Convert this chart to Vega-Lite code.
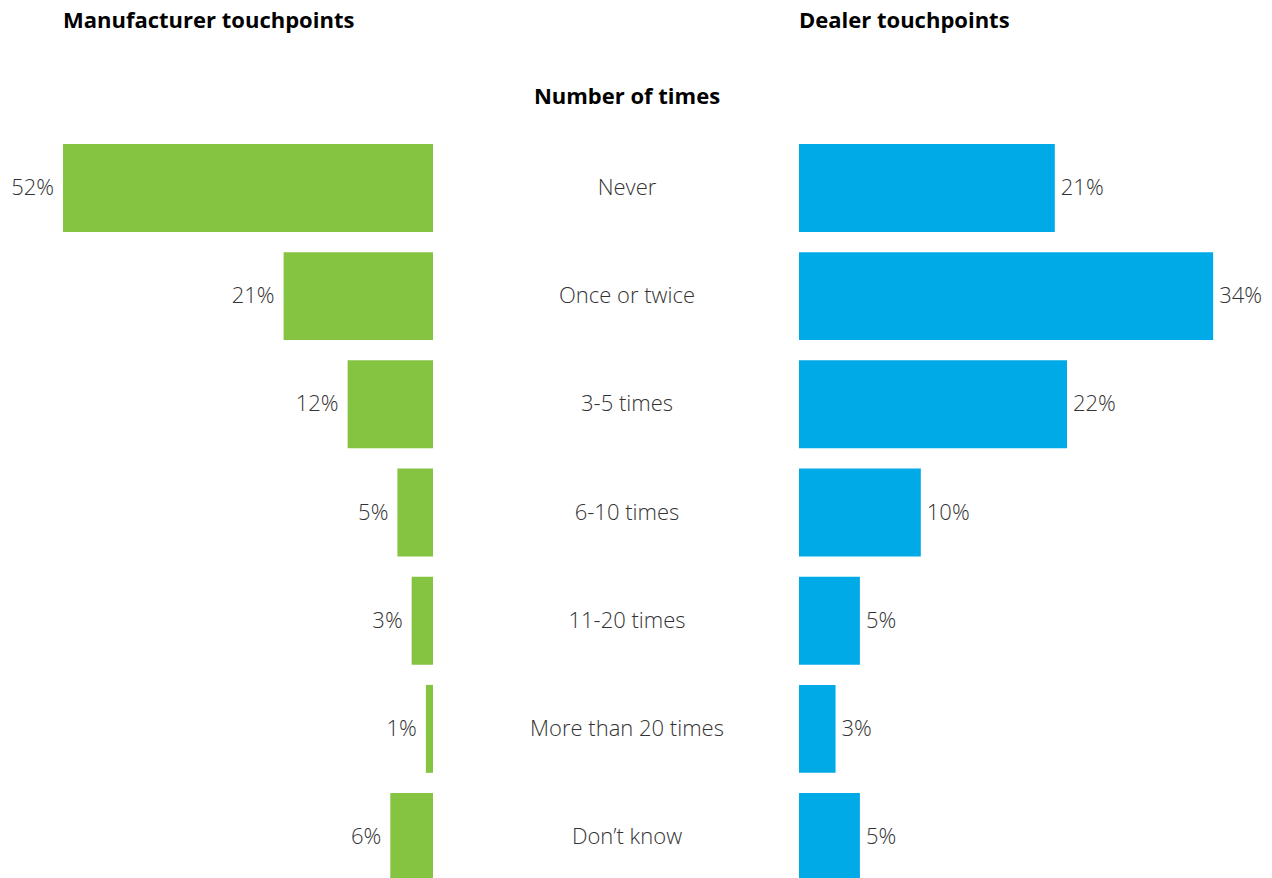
{
  "$schema": "https://vega.github.io/schema/vega-lite/v6.json",
  "background": "white",
  "padding": {"top": 10, "left": 0, "right": 0, "bottom": 0},
  "spacing": 0,
  "data": {
    "values": [
      {"category": "Never", "manufacturer": 0.52, "dealer": 0.21},
      {"category": "Once or twice", "manufacturer": 0.21, "dealer": 0.34},
      {"category": "3-5 times", "manufacturer": 0.12, "dealer": 0.22},
      {"category": "6-10 times", "manufacturer": 0.05, "dealer": 0.10},
      {"category": "11-20 times", "manufacturer": 0.03, "dealer": 0.05},
      {"category": "More than 20 times", "manufacturer": 0.01, "dealer": 0.03},
      {"category": "Don’t know", "manufacturer": 0.06, "dealer": 0.05}
    ]
  },
  "config": {
    "view": {"stroke": null},
    "font": "Open Sans",
    "title": {
      "fontSize": 22,
      "fontWeight": "bold",
      "color": "#000000",
      "lineHeight": 76,
      "offset": 35,
      "baseline": "top"
    }
  },
  "hconcat": [
    {
      "width": 433,
      "height": 737,
      "title": {"text": ["Manufacturer touchpoints", " "], "anchor": "start", "dx": 63},
      "encoding": {
        "y": {
          "field": "category", "type": "nominal",
          "sort": ["Never", "Once or twice", "3-5 times", "6-10 times", "11-20 times", "More than 20 times", "Don’t know"],
          "axis": null,
          "scale": {"type": "band", "paddingInner": 0.187, "paddingOuter": 0}
        },
        "x": {
          "field": "manufacturer", "type": "quantitative", "axis": null,
          "scale": {"domain": [0, 0.6086], "reverse": true}
        }
      },
      "layer": [
        {"mark": {"type": "bar", "color": "#84C441"}},
        {
          "mark": {"type": "text", "align": "right", "baseline": "middle", "dx": -9, "fontSize": 22, "fontWeight": 300, "color": "#333333"},
          "encoding": {"text": {"field": "manufacturer", "type": "quantitative", "format": ".0%"}}
        }
      ]
    },
    {
      "width": 366,
      "height": 737,
      "title": {"text": [" ", "Number of times"], "anchor": "middle", "dx": 11},
      "mark": {"type": "text", "align": "center", "baseline": "middle", "dx": 11, "fontSize": 22, "fontWeight": 300, "color": "#333333"},
      "encoding": {
        "y": {
          "field": "category", "type": "nominal",
          "sort": ["Never", "Once or twice", "3-5 times", "6-10 times", "11-20 times", "More than 20 times", "Don’t know"],
          "axis": null,
          "scale": {"type": "band", "paddingInner": 0.187, "paddingOuter": 0}
        },
        "text": {"field": "category", "type": "nominal"}
      }
    },
    {
      "width": 473,
      "height": 737,
      "title": {"text": ["Dealer touchpoints", " "], "anchor": "start"},
      "encoding": {
        "y": {
          "field": "category", "type": "nominal",
          "sort": ["Never", "Once or twice", "3-5 times", "6-10 times", "11-20 times", "More than 20 times", "Don’t know"],
          "axis": null,
          "scale": {"type": "band", "paddingInner": 0.187, "paddingOuter": 0}
        },
        "x": {
          "field": "dealer", "type": "quantitative", "axis": null,
          "scale": {"domain": [0, 0.3883]}
        }
      },
      "layer": [
        {"mark": {"type": "bar", "color": "#00AAE6"}},
        {
          "mark": {"type": "text", "align": "left", "baseline": "middle", "dx": 6, "fontSize": 22, "fontWeight": 300, "color": "#333333"},
          "encoding": {"text": {"field": "dealer", "type": "quantitative", "format": ".0%"}}
        }
      ]
    }
  ]
}
